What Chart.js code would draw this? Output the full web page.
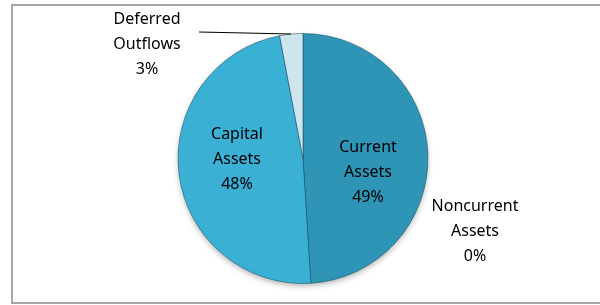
<!DOCTYPE html>
<html>
<head>
<meta charset="utf-8">
<script src="https://cdn.jsdelivr.net/npm/chart.js@4"></script>
<style>
  html, body { margin: 0; padding: 0; background: #fff; }
  #wrap { width: 600px; height: 305px; position: relative; }
</style>
</head>
<body>
<div id="wrap"><canvas id="myChart" width="600" height="305"></canvas></div>
<script>
var categories = ["Current Assets", "Noncurrent Assets", "Capital Assets", "Deferred Outflows"];
var values = [49, 0, 48, 3];
var labelLines = [
    ["Current", "Assets", "49%"],
    ["Noncurrent", "Assets", "0%"],
    ["Capital", "Assets", "48%"],
    ["Deferred", "Outflows", "3%"],
];
var colors = [
    ["#2F95B6", "#237A96"],
    ["#2F95B6", "#237A96"],
    ["#3BB0D5", "#2E94B8"],
    ["#CFE5EE", "#A9CCDB"],
];

// label spots relative to the pie center, in pixels
var labelSpots = [
    { dx: 65, dy: 14 },
    { dx: 172, dy: 73 },
    { dx: -66, dy: 1 },
    { dx: -156, dy: -114 },
];

function sliceFill(context) {
    var chart = context.chart;
    var pair = colors[context.dataIndex];
    var arc = chart.getDatasetMeta(0).data[context.dataIndex];
    if (!arc || !arc.outerRadius) return pair[0];
    var g = chart.ctx.createRadialGradient(arc.x, arc.y, 0, arc.x, arc.y, arc.outerRadius);
    g.addColorStop(0, pair[0]);
    g.addColorStop(0.82, pair[0]);
    g.addColorStop(1, pair[1]);
    return g;
}

var frame = {
    id: "frame",
    beforeDraw: function (chart) {
        var c = chart.ctx;
        c.save();
        c.strokeStyle = "#A6A6A6";
        c.lineWidth = 2;
        c.strokeRect(12, 5, 600, 298);
        c.restore();
    },
    beforeDatasetsDraw: function (chart) {
        var arc = chart.getDatasetMeta(0).data[0];
        var c = chart.ctx;
        c.save();
        c.shadowColor = "rgba(0,0,0,0.35)";
        c.shadowBlur = 6;
        c.shadowOffsetY = 3;
        c.fillStyle = "#2F95B6";
        c.beginPath();
        c.arc(arc.x, arc.y, arc.outerRadius - 1, 0, Math.PI * 2);
        c.fill();
        c.restore();
    },
};

var sliceLabels = {
    id: "sliceLabels",
    afterDraw: function (chart) {
        var c = chart.ctx;
        var arc = chart.getDatasetMeta(0).data[0];
        var cx = arc.x, cy = arc.y;
        c.save();
        // leader line for the thin slice
        c.strokeStyle = "#000";
        c.lineWidth = 1.2;
        c.beginPath();
        c.moveTo(199, 32);
        c.lineTo(291, 34);
        c.stroke();

        c.fillStyle = "#000";
        c.font = "16px 'Noto Sans', sans-serif";
        c.textAlign = "center";
        c.textBaseline = "middle";
        labelLines.forEach(function (lines, i) {
            var s = labelSpots[i];
            lines.forEach(function (t, k) {
                c.fillText(t, cx + s.dx, cy + s.dy + (k - 1) * 25);
            });
        });
        c.restore();
    },
};

var ctx = document.getElementById("myChart").getContext("2d");

var myChart = new Chart(ctx, {
    type: "pie",
    data: {
        labels: categories,
        datasets: [
            {
                data: values,
                backgroundColor: sliceFill,
                borderColor: "rgba(20,70,90,0.5)",
                borderWidth: 1,
            },
        ],
    },
    options: {
        responsive: false,
        animation: false,
        layout: {
            padding: { top: 33, bottom: 21, left: 100, right: 94 },
        },
        plugins: {
            legend: { display: false },
            tooltip: { enabled: false },
        },
    },
    plugins: [frame, sliceLabels],
});
</script>
</body>
</html>
